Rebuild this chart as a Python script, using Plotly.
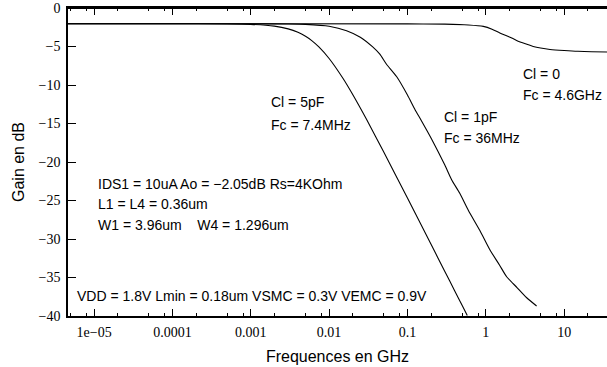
import plotly.graph_objects as go

# ---- data ----
freq_5pF = [4.6e-6, 1e-4, 5e-4, 1e-3, 2e-3, 3e-3, 4e-3, 5e-3, 6e-3, 7.4e-3, 0.01, 0.015, 0.02,
            0.03, 0.05, 0.1, 0.2, 0.3, 0.4, 0.5, 0.58]
gain_5pF = [-2.05, -2.05, -2.07, -2.13, -2.36, -2.71, -3.16, -3.68, -4.24, -5.06, -6.56, -9.13,
            -11.24, -14.46, -18.74, -24.69, -30.69, -34.21, -36.71, -38.65, -39.93]

freq_1pF = [4.6e-6, 1e-3, 3e-3, 5e-3, 0.01, 0.0167, 0.025, 0.036, 0.0444, 0.054, 0.0726, 0.1,
            0.125, 0.15, 0.203, 0.3, 0.366, 0.467, 0.6, 0.84, 1.127, 1.5, 1.845, 2.5, 3.3, 4.45]
gain_1pF = [-2.05, -2.05, -2.08, -2.13, -2.37, -2.95, -3.8, -5.06, -6.0, -7.3, -8.9, -11.3,
            -13.2, -14.6, -17.0, -20.4, -22.3, -24.1, -26.3, -28.9, -31.4, -33.4, -34.9, -36.3,
            -37.6, -38.7]

freq_0 = [4.6e-6, 0.1, 0.3, 0.6, 0.93, 1.2, 1.51, 2.0, 2.47, 3.2, 4.03, 5.0, 6.6, 10.0, 15.0, 36.0]
gain_0 = [-2.05, -2.06, -2.1, -2.2, -2.39, -2.75, -3.25, -3.75, -4.21, -4.65, -4.99, -5.2,
          -5.38, -5.52, -5.62, -5.72]

x_tickvals = [1e-5, 1e-4, 1e-3, 1e-2, 1e-1, 1, 10]
x_ticktext = ["1e\u221205", "0.0001", "0.001", "0.01", "0.1", "1", "10"]
x_minorvals = [2e-6, 5e-6, 8e-6, 2e-5, 5e-5, 8e-5, 2e-4, 5e-4, 8e-4, 2e-3, 5e-3, 8e-3,
               2e-2, 5e-2, 8e-2, 0.2, 0.5, 0.8, 2, 5, 8, 20, 50]
y_tickvals = [0, -5, -10, -15, -20, -25, -30, -35, -40]
y_ticktext = ["0", "\u22125", "\u221210", "\u221215", "\u221220", "\u221225", "\u221230",
              "\u221235", "\u221240"]

notes = [
    ("Cl = 0", 520.7, 74),
    ("Fc = 4.6GHz", 520.7, 95),
    ("Cl = 5pF", 269.3, 101.7),
    ("Fc = 7.4MHz", 269.3, 124.5),
    ("Cl = 1pF", 441.7, 116.7),
    ("Fc = 36MHz", 441.7, 138),
    ("IDS1 = 10uA Ao = \u22122.05dB Rs=4KOhm", 96, 184),
    ("L1 = L4 = 0.36um", 96, 204),
    ("W1 = 3.96um\u00a0\u00a0\u00a0 W4 = 1.296um", 96, 224.5),
    ("VDD = 1.8V Lmin = 0.18um VSMC = 0.3V VEMC = 0.9V", 75, 296),
]

# ---- figure ----
W, H = 607, 367
L, R, T, B = 68, 0, 8, 51
pw, ph = W - L - R, H - T - B

fig = go.Figure()
for fx, gy in [(freq_5pF, gain_5pF), (freq_1pF, gain_1pF), (freq_0, gain_0)]:
    fig.add_trace(go.Scatter(x=fx, y=gy, mode="lines",
                             line=dict(color="black", width=1.1, shape="spline", smoothing=0.6),
                             showlegend=False, hoverinfo="skip"))

sans = "Liberation Sans"
serif = "Liberation Serif"

annotations = []
for txt, px, py in notes:
    annotations.append(dict(text=txt, xref="paper", yref="paper",
                            x=(px - L) / pw, y=(H - B - py) / ph,
                            xanchor="left", yanchor="middle", showarrow=False,
                            font=dict(family=sans, size=14, color="black")))

fig.update_layout(
    width=W, height=H,
    margin=dict(l=L, r=R, t=T, b=B, pad=0),
    paper_bgcolor="white", plot_bgcolor="white",
    annotations=annotations,
    shapes=[dict(type="line", xref="paper", yref="paper", x0=0, x1=1, y0=1, y1=1,
                 line=dict(color="black", width=2), layer="above")],
    xaxis=dict(type="log", range=[-5.333, 1.547], tickmode="array",
               tickvals=x_tickvals, ticktext=x_ticktext,
               ticks="inside", ticklen=7, tickwidth=1, tickcolor="black",
               minor=dict(tickmode="array", tickvals=x_minorvals, ticks="inside",
                          ticklen=3, tickwidth=1, tickcolor="black", showgrid=False),
               showline=True, linecolor="black", linewidth=1.5, mirror="ticks",
               showgrid=False, zeroline=False, automargin=False,
               tickfont=dict(family=serif, size=14, color="black"),
               ticklabelstandoff=2,
               title=dict(text="Frequences en GHz", standoff=12,
                          font=dict(family=sans, size=16, color="black"))),
    yaxis=dict(range=[-40, 0], tickmode="array", tickvals=y_tickvals, ticktext=y_ticktext,
               ticks="inside", ticklen=8, tickwidth=1, tickcolor="black",
               showline=True, linecolor="black", linewidth=1.5, mirror=False,
               showgrid=False, zeroline=False, automargin=False,
               tickfont=dict(family=serif, size=14, color="black"),
               ticklabelstandoff=3,
               title=dict(text="Gain en dB", standoff=10,
                          font=dict(family=sans, size=16, color="black"))),
)

fig.write_html("out.html")
